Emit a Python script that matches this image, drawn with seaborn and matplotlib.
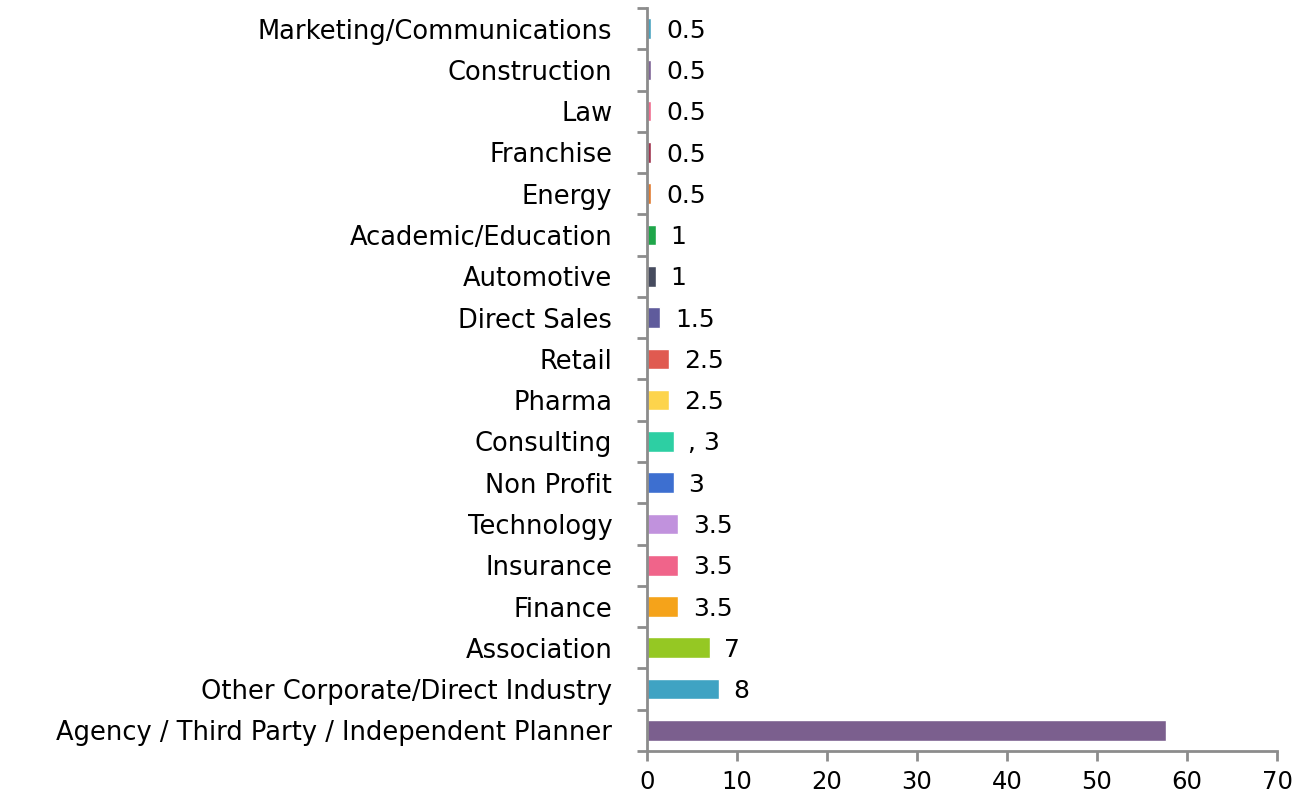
import numpy as np
import pandas as pd
import seaborn as sns
import matplotlib.pyplot as plt
from matplotlib.ticker import FixedLocator

# Chart data (top to bottom)
categories = [
    "Marketing/Communications", "Construction", "Law", "Franchise", "Energy",
    "Academic/Education", "Automotive", "Direct Sales", "Retail", "Pharma",
    "Consulting", "Non Profit", "Technology", "Insurance", "Finance",
    "Association", "Other Corporate/Direct Industry",
    "Agency / Third Party / Independent Planner",
]
values = [0.5, 0.5, 0.5, 0.5, 0.5, 1, 1, 1.5, 2.5, 2.5, 3, 3, 3.5, 3.5, 3.5, 7, 8, 57.7]
value_labels = ["0.5", "0.5", "0.5", "0.5", "0.5", "1", "1", "1.5", "2.5", "2.5",
                ", 3", "3", "3.5", "3.5", "3.5", "7", "8", ""]
colors = [
    "#4aa3c0", "#7e6496", "#f06c8f", "#a0344f", "#e07b30", "#1fa64a",
    "#464b5e", "#5f5b9c", "#e05a50", "#fdd44c", "#2dcfa3", "#3d6fd0",
    "#c192dd", "#f0648a", "#f5a31a", "#95c823", "#3fa3c3", "#7b5f8e",
]
xticks = [0, 10, 20, 30, 40, 50, 60, 70]

df = pd.DataFrame({"category": categories, "value": values})

sns.set_style("white")
plt.rcParams["font.family"] = ["DejaVu Sans"]

fig = plt.figure(figsize=(13.01, 7.98), dpi=100)
ax = fig.add_axes([0.4973, 0.0589, 0.4843, 0.9311])

sns.barplot(data=df, y="category", x="value", hue="category",
            palette=colors, order=categories, hue_order=categories,
            width=0.5, saturation=1, legend=False, ax=ax)

# value labels
for i, (v, lab) in enumerate(zip(values, value_labels)):
    if lab:
        ax.text(v + 1.6, i + 0.05, lab, va="center", ha="left", fontsize=18, color="black")

ax.set_xlim(0, 70)
ax.set_ylim(len(categories) - 0.5, -0.5)
ax.set_xticks(xticks)
ax.set_xticklabels([str(t) for t in xticks], fontsize=17.5)
ax.set_xlabel("")
ax.set_ylabel("")
ax.tick_params(left=True, bottom=True, which="both", labelcolor="black")
ax.tick_params(axis="y", which="major", length=0, pad=25, labelsize=18.5)
ax.yaxis.set_minor_locator(FixedLocator(np.arange(-0.5, len(categories), 1)))
ax.tick_params(axis="y", which="minor", length=7, width=2, color="#8c8c8c", direction="out")
ax.tick_params(axis="x", which="major", length=7, width=2, color="#8c8c8c", direction="out", pad=7)

for side in ["top", "right"]:
    ax.spines[side].set_visible(False)
for side in ["left", "bottom"]:
    ax.spines[side].set_color("#8c8c8c")
    ax.spines[side].set_linewidth(2)

fig.savefig("out.png", dpi=100)
